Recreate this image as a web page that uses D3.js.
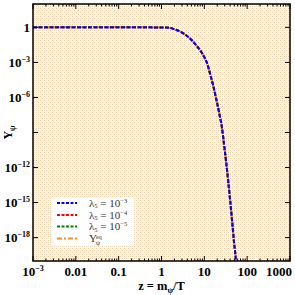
<!DOCTYPE html>
<html>
<head>
<meta charset="utf-8">
<script src="https://cdn.jsdelivr.net/npm/d3@7"></script>
<style>
  html, body { margin: 0; padding: 0; background: #fff; }
  svg { display: block; }
  text { font-family: "Liberation Serif", "DejaVu Serif", serif; }
</style>
</head>
<body>
<div id="chart"></div>
<script>
// values
const zValues = [0.001, 0.01, 0.1, 0.5, 1.21, 1.58, 2.07, 2.7, 3.54, 4.63, 5.74, 7.1, 8.8, 10.4, 11.55,
  13.57, 15.94, 18.74, 22.0, 25.9, 28.8, 32.1, 35.7, 39.8, 44.3, 49.3, 54.9, 60];
const yLambda3 = [1, 1, 1, 1, 0.955, 0.89, 0.66, 0.45, 0.245, 0.112, 0.05, 0.019, 6.3e-3, 2.1e-3, 8.9e-4,
  1.1e-4, 1.2e-5, 8.9e-7, 5.6e-8, 2.4e-9, 1.0e-10, 3.6e-12, 1.0e-13, 2.0e-15, 3.2e-17, 4.2e-19, 1.0e-20, 5e-23];
const yLambda4 = [1, 1, 1, 1, 0.955, 0.89, 0.66, 0.45, 0.245, 0.112, 0.05, 0.019, 6.3e-3, 2.1e-3, 8.9e-4,
  1.1e-4, 1.2e-5, 8.9e-7, 5.6e-8, 2.4e-9, 1.0e-10, 3.6e-12, 1.0e-13, 2.0e-15, 3.2e-17, 4.2e-19, 1.0e-20, 5e-23];
const yLambda5 = [1, 1, 1, 1, 0.955, 0.89, 0.66, 0.45, 0.245, 0.112, 0.05, 0.019, 6.3e-3, 2.1e-3, 8.9e-4,
  1.1e-4, 1.2e-5, 8.9e-7, 5.6e-8, 2.4e-9, 1.0e-10, 3.6e-12, 1.0e-13, 2.0e-15, 3.2e-17, 4.2e-19, 1.0e-20, 5e-23];
const yEq = [1, 1, 1, 1, 0.955, 0.89, 0.66, 0.45, 0.245, 0.112, 0.05, 0.019, 6.3e-3, 2.1e-3, 8.9e-4,
  1.1e-4, 1.2e-5, 8.9e-7, 5.6e-8, 2.4e-9, 1.0e-10, 3.6e-12, 1.0e-13, 2.0e-15, 3.2e-17, 4.2e-19, 1.0e-20, 5e-23];

const xTicks = [1e-3, 1e-2, 1e-1, 1, 10, 100, 1000];
const xTickLabels = [["10", "−3"], ["0.01"], ["0.1"], ["1"], ["10"], ["100"], ["1000"]];
const yTicks = [1, 1e-3, 1e-6, 1e-9, 1e-12, 1e-15, 1e-18];
const yTickLabels = [["1"], ["10", "−3"], ["10", "−6"], null, ["10", "−12"], ["10", "−15"], ["10", "−18"]];
const legendExps = ["−3", "−4", "−5"];

const W = 295, H = 295;
const margin = { left: 33, right: 5, top: 4, bottom: 34 };

const svg = d3.select("#chart").append("svg").attr("width", W).attr("height", H);

const x = d3.scaleLog().domain([1e-3, 1e3]).range([margin.left, W - margin.right]);
const y = d3.scaleLog().domain([1e-20, 1e2]).range([H - margin.bottom, margin.top]);

// dotted background pattern
const defs = svg.append("defs");
const pat = defs.append("pattern").attr("id", "dots")
  .attr("patternUnits", "userSpaceOnUse").attr("width", 4).attr("height", 4);
pat.append("rect").attr("width", 4).attr("height", 4).attr("fill", "#fffaf3");
pat.append("rect").attr("x", 0).attr("y", 0).attr("width", 1).attr("height", 1).attr("fill", "#f2cc98");
pat.append("rect").attr("x", 2).attr("y", 2).attr("width", 1).attr("height", 1).attr("fill", "#f2cc98");
pat.append("rect").attr("x", 2).attr("y", 0).attr("width", 1).attr("height", 1).attr("fill", "#ebe2d6");
pat.append("rect").attr("x", 0).attr("y", 2).attr("width", 1).attr("height", 1).attr("fill", "#ebe2d6");

defs.append("clipPath").attr("id", "clip").append("rect")
  .attr("x", x.range()[0]).attr("y", y.range()[1])
  .attr("width", x.range()[1] - x.range()[0]).attr("height", y.range()[0] - y.range()[1]);

svg.append("rect")
  .attr("x", x.range()[0]).attr("y", y.range()[1])
  .attr("width", x.range()[1] - x.range()[0]).attr("height", y.range()[0] - y.range()[1])
  .attr("fill", "url(#dots)");

// curves
const line = d3.line().x(d => x(d[0])).y(d => y(d[1])).curve(d3.curveMonotoneX);
const series = [
  { vals: yLambda4, color: "#ff0000", dash: "4,1.5" },
  { vals: yLambda5, color: "#008000", dash: "4,1.5" },
  { vals: yEq, color: "#ff8c1a", dash: "6,2,2,2" },
  { vals: yLambda3, color: "#0000ff", dash: "4,1.5" }
];
const gLines = svg.append("g").attr("clip-path", "url(#clip)");
series.forEach(s => {
  gLines.append("path")
    .datum(zValues.map((z, i) => [z, s.vals[i]]))
    .attr("d", line)
    .attr("fill", "none")
    .attr("stroke", s.color)
    .attr("stroke-width", 2)
    .attr("stroke-dasharray", s.dash);
});

// ticks on all four sides
const x0 = x.range()[0], x1 = x.range()[1], y0 = y.range()[0], y1 = y.range()[1];
const gTicks = svg.append("g").attr("stroke", "#000").attr("stroke-width", 1);
const xMinor = [];
for (let e = -3; e < 3; e++) for (let k = 2; k <= 9; k++) xMinor.push(k * Math.pow(10, e));
xTicks.forEach(t => {
  gTicks.append("line").attr("x1", x(t)).attr("x2", x(t)).attr("y1", y0).attr("y2", y0 - 5);
  gTicks.append("line").attr("x1", x(t)).attr("x2", x(t)).attr("y1", y1).attr("y2", y1 + 5);
});
xMinor.forEach(t => {
  gTicks.append("line").attr("x1", x(t)).attr("x2", x(t)).attr("y1", y0).attr("y2", y0 - 2.5);
  gTicks.append("line").attr("x1", x(t)).attr("x2", x(t)).attr("y1", y1).attr("y2", y1 + 2.5);
});
yTicks.forEach(t => {
  gTicks.append("line").attr("x1", x0).attr("x2", x0 + 5).attr("y1", y(t)).attr("y2", y(t));
  gTicks.append("line").attr("x1", x1).attr("x2", x1 - 5).attr("y1", y(t)).attr("y2", y(t));
});

// frame
svg.append("rect")
  .attr("x", x0).attr("y", y1).attr("width", x1 - x0).attr("height", y0 - y1)
  .attr("fill", "none").attr("stroke", "#000").attr("stroke-width", 1.5);

// tick labels
function addPow(sel, parts, supSize) {
  sel.append("tspan").text(parts[0]);
  if (parts[1]) sel.append("tspan").attr("dy", -5).attr("font-size", supSize).text(parts[1]);
}
xTicks.forEach((t, i) => {
  let px = x(t);
  if (i === xTicks.length - 1) px -= 11;
  const txt = svg.append("text").attr("x", px).attr("y", 276)
    .attr("text-anchor", "middle").attr("font-size", 13).attr("font-weight", "bold");
  addPow(txt, xTickLabels[i], 8);
});
yTicks.forEach((t, i) => {
  if (!yTickLabels[i]) return;
  const txt = svg.append("text").attr("x", 30).attr("y", y(t) + 4.5)
    .attr("text-anchor", "end").attr("font-size", 13).attr("font-weight", "bold");
  addPow(txt, yTickLabels[i], 8);
});

// axis labels
const xl = svg.append("text").attr("x", (x0 + x1) / 2).attr("y", 290)
  .attr("text-anchor", "middle").attr("font-size", 12.5).attr("font-weight", "bold");
xl.append("tspan").text("z = m");
xl.append("tspan").attr("dy", 3).attr("font-size", 8).text("ψ");
xl.append("tspan").attr("dy", -3).text("/T");

const yl = svg.append("text")
  .attr("transform", `translate(12,${(y0 + y1) / 2}) rotate(-90)`)
  .attr("text-anchor", "middle").attr("font-size", 12).attr("font-weight", "bold");
yl.append("tspan").text("Y");
yl.append("tspan").attr("dy", 3).attr("font-size", 8).text("ψ");

// legend
const leg = svg.append("g");
leg.append("rect").attr("x", 51).attr("y", 197).attr("width", 83).attr("height", 48).attr("fill", "#fff");
const legRows = [203, 215, 226.5, 238.5];
const legSeries = [series[3], series[0], series[1], series[2]];
legSeries.forEach((s, i) => {
  leg.append("line").attr("x1", 57).attr("x2", 77).attr("y1", legRows[i]).attr("y2", legRows[i])
    .attr("stroke", s.color).attr("stroke-width", 2)
    .attr("stroke-dasharray", i === 3 ? "5,2,2,2" : "3,1.5");
  const t = leg.append("text").attr("x", 89).attr("font-size", 11).attr("fill", "#333");
  if (i < 3) {
    t.attr("y", legRows[i] + 3.5);
    t.append("tspan").text("λ");
    t.append("tspan").attr("dy", 1.5).attr("font-size", 6.5).text("5");
    t.append("tspan").attr("dy", -1.5).text(" = 10");
    t.append("tspan").attr("dy", -4).attr("font-size", 6.5).text(legendExps[i]);
  } else {
    t.attr("y", legRows[i] + 3);
    t.append("tspan").text("Y");
    t.append("tspan").attr("dx", -1).attr("dy", 3).attr("font-size", 6.5).text("ψ");
    t.append("tspan").attr("dx", -4).attr("dy", -6).attr("font-size", 6).text("eq");
  }
});
</script>
</body>
</html>
